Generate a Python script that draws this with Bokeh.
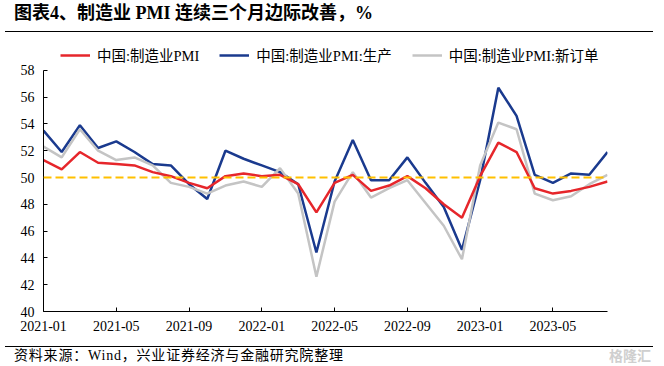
from bokeh.plotting import figure
from bokeh.layouts import column
from bokeh.models import Div, Span, Legend, LegendItem, FixedTicker, Range1d, ColumnDataSource
from bokeh.embed import file_html
from bokeh.resources import INLINE

months = ["2021-01","2021-02","2021-03","2021-04","2021-05","2021-06","2021-07","2021-08",
          "2021-09","2021-10","2021-11","2021-12","2022-01","2022-02","2022-03","2022-04",
          "2022-05","2022-06","2022-07","2022-08","2022-09","2022-10","2022-11","2022-12",
          "2023-01","2023-02","2023-03","2023-04","2023-05","2023-06","2023-07","2023-08"]
pmi = [51.3,50.6,51.9,51.1,51.0,50.9,50.4,50.1,49.6,49.2,50.1,50.3,
       50.1,50.2,49.5,47.4,49.6,50.2,49.0,49.4,50.1,49.2,48.0,47.0,
       50.1,52.6,51.9,49.2,48.8,49.0,49.3,49.7]
production = [53.5,51.9,53.9,52.2,52.7,51.9,51.0,50.9,49.5,48.4,52.0,51.4,
              50.9,50.4,49.5,44.4,49.7,52.8,49.8,49.8,51.5,49.6,47.8,44.6,
              49.8,56.7,54.6,50.2,49.6,50.3,50.2,51.9]
new_orders = [52.3,51.5,53.6,52.0,51.3,51.5,50.9,49.6,49.3,48.8,49.4,49.7,
              49.3,50.7,48.8,42.6,48.2,50.4,48.5,49.2,49.8,48.1,46.4,43.9,
              50.9,54.1,53.6,48.8,48.3,48.6,49.5,50.2]
series_names = ["中国:制造业PMI", "中国:制造业PMI:生产", "中国:制造业PMI:新订单"]
tick_months = ["2021-01","2021-05","2021-09","2022-01","2022-05","2022-09","2023-01","2023-05"]
y_ticks = [40,42,44,46,48,50,52,54,56,58]
threshold = 50

idx = list(range(len(months)))
src = ColumnDataSource(dict(x=idx, month=months, pmi=pmi, prod=production, orders=new_orders))

SERIF_CJK = "Liberation Serif, 'Noto Sans CJK SC'"

# frame extends above the 58 tick to host the legend; the axis line stops at 58
p = figure(width=648, height=304, output_backend="svg", toolbar_location=None,
           x_range=Range1d(0, len(months) - 1), y_range=Range1d(40, 60),
           min_border_left=43, min_border_right=41, min_border_top=6, min_border_bottom=30,
           sizing_mode="fixed")
p.outline_line_color = None
p.xgrid.grid_line_color = None
p.ygrid.grid_line_color = None
p.background_fill_color = "white"
p.border_fill_color = "white"

tick_idx = [months.index(m) for m in tick_months]
p.xaxis.ticker = FixedTicker(ticks=tick_idx)
p.xaxis.major_label_overrides = {i: m for i, m in zip(tick_idx, tick_months)}
p.yaxis.ticker = FixedTicker(ticks=y_ticks)
p.yaxis.bounds = (y_ticks[0], y_ticks[-1])
for ax in (p.xaxis, p.yaxis):
    ax.axis_line_color = "black"
    ax.axis_line_width = 1
    ax.major_tick_in = 4
    ax.major_tick_out = 0
    ax.minor_tick_line_color = None
    ax.major_tick_line_color = "black"
    ax.major_label_text_font = "Liberation Serif"
    ax.major_label_text_font_size = "14px"
    ax.major_label_text_color = "black"
    ax.major_label_standoff = 9

p.add_layout(Span(location=threshold, dimension="width", line_color="#FFC000",
                  line_width=2, line_dash="8 4"))

r_prod = p.line("x", "prod", source=src, line_color="#1A3A8E", line_width=2.5)
r_ord = p.line("x", "orders", source=src, line_color="#C4C4C4", line_width=2.5)
r_pmi = p.line("x", "pmi", source=src, line_color="#E6262B", line_width=2.5)

legend = Legend(items=[LegendItem(label=series_names[0], renderers=[r_pmi]),
                       LegendItem(label=series_names[1], renderers=[r_prod]),
                       LegendItem(label=series_names[2], renderers=[r_ord])],
                orientation="horizontal", location=(17, 246),
                border_line_color=None, background_fill_alpha=0,
                glyph_width=30, glyph_height=14, label_standoff=7, spacing=20,
                padding=0, margin=0,
                label_text_font=SERIF_CJK, label_text_font_size="14.5px",
                label_text_color="black")
p.add_layout(legend, "center")

title = Div(width=648, height=27, sizing_mode="fixed", text=(
    "<div style=\"box-sizing:border-box;width:648px;height:27px;border-bottom:1.5px solid black;"
    "padding-left:9px;font-family:'Liberation Serif','Noto Sans CJK SC';font-weight:bold;"
    "font-size:18px;line-height:17px;color:black;\">图表4、制造业 PMI 连续三个月边际改善，%</div>"))

footer = Div(width=648, height=18, sizing_mode="fixed", text=(
    "<div style=\"box-sizing:border-box;width:648px;height:18px;border-top:1.5px solid black;"
    "display:flex;justify-content:space-between;padding-left:9px;padding-right:2px;"
    "font-family:'Liberation Serif','Noto Sans CJK SC';font-size:14px;letter-spacing:0.8px;line-height:17px;color:black;\">"
    "<span>资料来源：Wind，兴业证券经济与金融研究院整理</span>"
    "<span style=\"color:#cfcfcf;font-family:'Noto Sans CJK SC';font-weight:bold;font-size:14px;letter-spacing:0;\">格隆汇</span>"
    "</div>"))

layout = column(title, p, footer, spacing=0, sizing_mode="fixed")
open("out.html", "w").write(file_html(layout, INLINE))
